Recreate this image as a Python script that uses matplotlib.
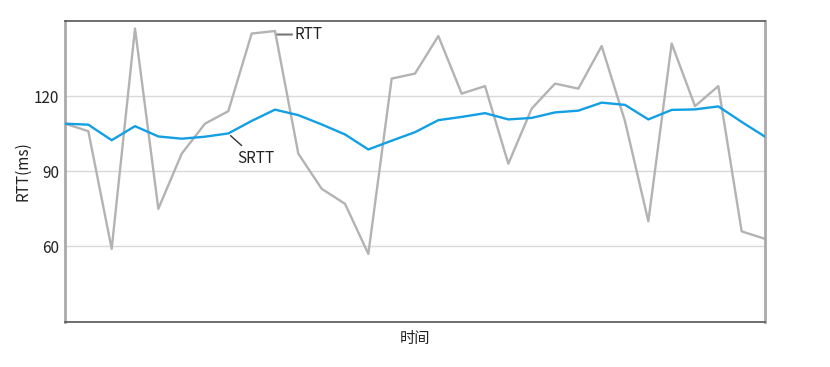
import matplotlib.pyplot as plt

plt.rcParams['font.family'] = ['Noto Sans CJK SC', 'DejaVu Sans']

# 采样值 (ms)
rtt = [109, 106, 59, 147, 75, 97, 109, 114, 145, 146, 97, 83, 77, 57, 127, 129,
       144, 121, 124, 93, 115, 125, 123, 140, 110, 70, 141, 116, 124, 66, 63]
srtt = [109, 108.6, 102.4, 108.0, 103.9, 103.0, 103.8, 105.1, 110.1, 114.6, 112.4,
        108.7, 104.7, 98.7, 102.2, 105.6, 110.4, 111.7, 113.2, 110.7, 111.3, 113.5,
        114.2, 117.4, 116.5, 110.7, 114.5, 114.7, 115.9, 109.7, 103.8]
yticks = [60, 90, 120]

x = list(range(len(rtt)))

fig = plt.figure(figsize=(8.3, 3.67), dpi=100)
ax = fig.add_axes([65/830, 1-321.5/367, 700/830, 300.5/367])

ax.plot(x, rtt, color='#b3b3b3', lw=1.7, zorder=2)
ax.plot(x, srtt, color='#139fe3', lw=1.7, zorder=3)

ax.set_xlim(0, len(rtt)-1)
ax.set_ylim(30, 150)
ax.set_yticks(yticks)
ax.set_xticks([])
ax.grid(axis='y', color='#d9d9d9', lw=1)
ax.set_axisbelow(True)
ax.tick_params(axis='y', length=0, labelsize=11, pad=4, labelcolor='#222222')

for s in ['top', 'bottom']:
    ax.spines[s].set_color('#555555')
    ax.spines[s].set_linewidth(1.2)
for s in ['left', 'right']:
    ax.spines[s].set_color('#aaaaaa')
    ax.spines[s].set_linewidth(2)

ax.set_ylabel('RTT(ms)', fontsize=11, labelpad=2, color='#222222')
ax.set_xlabel('时间', fontsize=11, labelpad=6, color='#222222')

# 曲线标注
ax.annotate('RTT', xy=(9.1, 144.6), xytext=(9.85, 144.6), fontsize=11, va='center',
            color='#222222',
            arrowprops=dict(arrowstyle='-', color='#777777', lw=1.5,
                            shrinkA=0, shrinkB=0))
ax.annotate('SRTT', xy=(7.05, 104.6), xytext=(7.4, 95), fontsize=11, va='center',
            color='#222222',
            arrowprops=dict(arrowstyle='-', color='#333333', lw=1,
                            shrinkA=2, shrinkB=1))

plt.savefig('out.png', dpi=100)
